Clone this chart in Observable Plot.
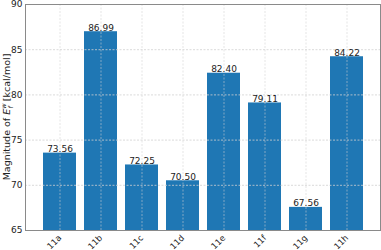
<!DOCTYPE html>
<html>
<head>
<meta charset="utf-8">
<script src="https://cdn.jsdelivr.net/npm/d3@7"></script>
<script src="https://cdn.jsdelivr.net/npm/@observablehq/plot@0.6"></script>
<style>
  html, body { margin: 0; padding: 0; background: #fff; }
  #chart { width: 381px; height: 250px; }
  svg { font-family: "DejaVu Sans", sans-serif; }
</style>
</head>
<body>
<div id="chart"></div>
<script>
const categories = ["11a", "11b", "11c", "11d", "11e", "11f", "11g", "11h"];
const values = [73.56, 86.99, 72.25, 70.50, 82.40, 79.11, 67.56, 84.22];
const yTicks = [65, 70, 75, 80, 85, 90];
const gridTicks = [70, 75, 80, 85];

const data = categories.map((c, i) => ({name: c, value: values[i]}));

const W = 381, H = 250;
const chart = Plot.plot({
  width: W,
  height: H,
  marginLeft: 25,
  marginRight: 1,
  marginTop: 4,
  marginBottom: 20,
  style: {fontFamily: "DejaVu Sans, sans-serif", fontSize: "9px", color: "#222", background: "#fff"},
  x: {domain: categories, paddingInner: 0.2, paddingOuter: 0.39, axis: null},
  y: {domain: [65, 90], axis: null},
  marks: [
    Plot.barY(data, {x: "name", y1: 65, y2: "value", fill: "#1f77b4"}),
    Plot.ruleY(gridTicks, {stroke: "#d0d0d0", strokeWidth: 0.8, strokeDasharray: "2,1.5"}),
    Plot.ruleX(categories, {x: d => d, stroke: "#d0d0d0", strokeOpacity: 0.7, strokeWidth: 0.8, strokeDasharray: "2,1.5"}),
    Plot.frame({stroke: "#8a8a8a", strokeWidth: 1}),
    Plot.text(data, {x: "name", y: "value", text: d => d.value.toFixed(2), lineAnchor: "bottom", dy: -1, fontSize: 9, fill: "#222"}),
    Plot.text(yTicks, {y: d => d, text: d => String(d), frameAnchor: "left", textAnchor: "end", dx: -3, fontSize: 9, fill: "#222"}),
    Plot.text(categories, {x: d => d, text: d => d, frameAnchor: "bottom", rotate: -45, textAnchor: "end", lineAnchor: "middle", dy: 6, dx: 0, fontSize: 8.5, fill: "#222"})
  ]
});

// y-axis label with sub/superscript
const svg = d3.select(chart);
const lbl = svg.append("text")
  .attr("transform", `translate(10,117) rotate(-90)`)
  .attr("text-anchor", "middle")
  .attr("font-size", 9.5)
  .attr("fill", "#222")
  .attr("font-family", "DejaVu Sans, sans-serif");
lbl.append("tspan").text("Magnitude of ");
lbl.append("tspan").attr("font-style", "italic").text("E");
lbl.append("tspan").attr("font-size", 6.5).attr("dy", -4).attr("font-style", "italic").text("w");
lbl.append("tspan").attr("font-size", 6.5).attr("dx", -5).attr("dy", 6.5).attr("font-style", "italic").text("f");
lbl.append("tspan").attr("dy", -2.5).attr("dx", 2).text(" [kcal/mol]");

document.getElementById("chart").appendChild(chart);
</script>
</body>
</html>
